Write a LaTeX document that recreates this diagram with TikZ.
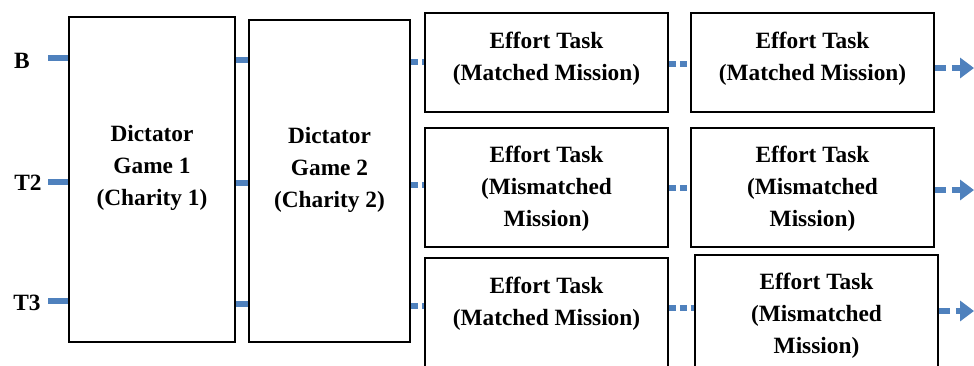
\documentclass[tikz,border=0pt]{standalone}
\usepackage{fontspec}
\setmainfont{Liberation Serif}
\usetikzlibrary{arrows.meta}
\definecolor{flowblue}{RGB}{79,129,189}
\pgfdeclarelayer{background}
\pgfsetlayers{background,main}
\tikzset{
  stage/.style 2 args = {shape=rectangle, draw, line width=1.8pt, inner sep=0pt,
                         minimum width=#1*0.75pt, minimum height=#2*0.75pt},
  caption/.style      = {align=center},
  group/.style        = {inner sep=0pt},
  link/.style         = {draw=flowblue, line width=4.8pt},
  dashlink/.style     = {link, dash pattern=on 5pt off 3pt},
  outlink/.style      = {link, dash pattern=on 8pt off 4.5pt,
                         -{Triangle[length=10.5pt, width=15pt]}},
}

\begin{document}
\begin{tikzpicture}
  [
    x = 0.75pt, y = -0.75pt,
    every node/.style = {font=\bfseries\fontsize{17.5}{24}\selectfont},
  ]
  \useasboundingbox (0,0) rectangle (974,365);
  \clip (0,0) rectangle (974,365);

  % treatments
  \node [group] (B)  at (22,61)  {B};
  \node [group] (T2) at (28,183) {T2};
  \node [group] (T3) at (27,303) {T3};
  \coordinate (inB)  at (48,58);
  \coordinate (inT2) at (48,182);
  \coordinate (inT3) at (48,301);

  % dictator games
  \node [stage={166}{325}] (dg1) at (152,179.5) {};
  \node [caption] (dg1text) at (152,168) {Dictator\\Game 1\\(Charity 1)};
  \node [stage={161}{322}] (dg2) at (329.5,181) {};
  \node [caption] (dg2text) at (329.5,170) {Dictator\\Game 2\\(Charity 2)};

  % effort tasks
  \node [stage={243}{99}]  (et11) at (546.5,62.5) {};
  \node [caption] (et11text) at (546.5,59) {Effort Task\\(Matched Mission)};
  \node [stage={243}{99}]  (et12) at (812.5,62.5) {};
  \node [caption] (et12text) at (812.5,59) {Effort Task\\(Matched Mission)};
  \node [stage={243}{119}] (et21) at (546.5,187.5) {};
  \node [caption] (et21text) at (546.5,189) {Effort Task\\(Mismatched\\Mission)};
  \node [stage={243}{119}] (et22) at (812.5,187.5) {};
  \node [caption] (et22text) at (812.5,189) {Effort Task\\(Mismatched\\Mission)};
  \node [stage={243}{130}] (et31) at (546.5,323) {};
  \node [caption] (et31text) at (546.5,304) {Effort Task\\(Matched Mission)};
  \node [stage={243}{133}] (et32) at (816.5,321.5) {};
  \node [caption] (et32text) at (816.5,316) {Effort Task\\(Mismatched\\Mission)};

  \coordinate (outB)  at (974,68);
  \coordinate (outT2) at (974,190);
  \coordinate (outT3) at (974,311);

  \begin{pgfonlayer}{background}
  % row B
  \draw [link] (inB) -- (dg1.west |- inB);
  \draw [link] (dg1.east |- 0,60) -- (dg2.west |- 0,60);
  \draw [dashlink] (dg2.east |- 0,62) -- (et11.west |- 0,62);
  \draw [dashlink] (et11.east |- 0,64) -- (et12.west |- 0,64);
  \draw [outlink] (et12.east |- outB) -- (outB);

  % row T2
  \draw [link] (inT2) -- (dg1.west |- inT2);
  \draw [link] (dg1.east |- 0,183) -- (dg2.west |- 0,183);
  \draw [dashlink] (dg2.east |- 0,185) -- (et21.west |- 0,185);
  \draw [dashlink] (et21.east |- 0,188) -- (et22.west |- 0,188);
  \draw [outlink] (et22.east |- outT2) -- (outT2);

  % row T3
  \draw [link] (inT3) -- (dg1.west |- inT3);
  \draw [link] (dg1.east |- 0,304) -- (dg2.west |- 0,304);
  \draw [dashlink] (dg2.east |- 0,306) -- (et31.west |- 0,306);
  \draw [dashlink] (et31.east |- 0,308) -- (et32.west |- 0,308);
  \draw [outlink] (et32.east |- outT3) -- (outT3);
  \end{pgfonlayer}
\end{tikzpicture}
\end{document}
